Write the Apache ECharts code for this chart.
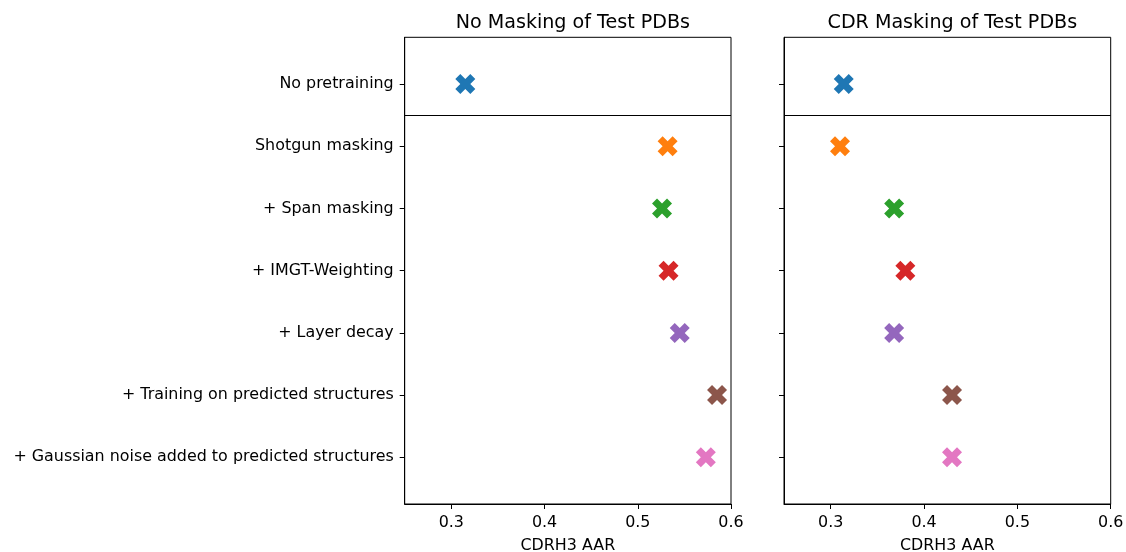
<!DOCTYPE html>
<html>
<head>
<meta charset="utf-8">
<script src="https://cdn.jsdelivr.net/npm/echarts@6/dist/echarts.min.js"></script>
<style>
  html, body { margin: 0; padding: 0; background: #fff; }
  #chart { width: 1126px; height: 552px; }
</style>
</head>
<body>
<div id="chart"></div>
<script>
// Pretraining configurations, top to bottom
const categories = [
  'No pretraining',
  'Shotgun masking',
  '+ Span masking',
  '+ IMGT-Weighting',
  '+ Layer decay',
  '+ Training on predicted structures',
  '+ Gaussian noise added to predicted structures'
];
// CDRH3 amino-acid recovery per configuration
const noMaskingAAR = [0.315, 0.532, 0.526, 0.533, 0.545, 0.585, 0.573];
const cdrMaskingAAR = [0.314, 0.310, 0.368, 0.380, 0.368, 0.430, 0.430];
const xTicks = [0.3, 0.4, 0.5, 0.6];
const panelTitles = ['No Masking of Test PDBs', 'CDR Masking of Test PDBs'];
const xAxisName = 'CDRH3 AAR';

const colors = ['#1f77b4', '#ff7f0e', '#2ca02c', '#d62728', '#9467bd', '#8c564b', '#e377c2'];
// filled "X" marker
const xMarker = 'path://M6 0L8 2L6 4L8 6L6 8L4 6L2 8L0 6L2 4L0 2L2 0L4 2Z';
const FONT = '"DejaVu Sans", sans-serif';
const TICK_FS = 15.9;
const TITLE_FS = 19.1;
const catIdx = categories.map((_, i) => i);

const chart = echarts.init(document.getElementById('chart'), null, { renderer: 'canvas' });

const grids = [
  { left: 404.7, width: 326.3, top: 37.3, height: 466.7 },
  { left: 784, width: 326.7, top: 37.3, height: 466.7 }
];

function xAxisFor(i) {
  return {
    type: 'value', gridIndex: i, min: 0.25, max: 0.6,
    name: xAxisName, nameLocation: 'middle', nameGap: 34,
    nameTextStyle: { fontFamily: FONT, fontSize: TICK_FS, color: '#000' },
    axisLine: { show: true, onZero: false, lineStyle: { color: '#000', width: 1 } },
    axisTick: { show: true, inside: false, length: 5, customValues: xTicks, lineStyle: { color: '#000' } },
    axisLabel: { show: true, margin: 11, customValues: xTicks, fontFamily: FONT, fontSize: TICK_FS, color: '#000',
      formatter: v => String(Math.round(v * 10) / 10) },
    splitLine: { show: false }
  };
}
function yAxisFor(i) {
  return {
    type: 'value', gridIndex: i, min: -0.75, max: 6.75, inverse: true,
    axisLine: { show: true, onZero: false, lineStyle: { color: '#000', width: 1 } },
    axisTick: { show: true, inside: false, length: 5, customValues: catIdx, lineStyle: { color: '#000' } },
    axisLabel: { show: i === 0, margin: 11, customValues: catIdx, fontFamily: FONT, fontSize: TICK_FS, color: '#000',
      formatter: v => categories[Math.round(v)] || '' },
    splitLine: { show: false }
  };
}

function seriesFor(i, values) {
  return {
    type: 'scatter', xAxisIndex: i, yAxisIndex: i,
    symbol: xMarker, symbolSize: 20,
    data: values.map((v, k) => ({ value: [v, k], itemStyle: { color: colors[k], opacity: 1 } })),
    markLine: {
      silent: true, symbol: 'none', label: { show: false },
      lineStyle: { color: '#000', width: 1, type: 'solid' },
      data: [{ yAxis: 0.5 }]
    },
    z: 3
  };
}

chart.setOption({
  animation: false,
  backgroundColor: '#fff',
  title: panelTitles.map((t, i) => ({
    text: t,
    left: grids[i].left + grids[i].width / 2,
    top: 9,
    textAlign: 'center',
    textStyle: { fontFamily: FONT, fontSize: TITLE_FS, fontWeight: 'normal', color: '#000' }
  })),
  grid: grids.map(g => Object.assign({
    show: true, borderColor: '#000', borderWidth: 1, backgroundColor: 'transparent',
    containLabel: false, outerBoundsMode: 'none'
  }, g)),
  xAxis: [xAxisFor(0), xAxisFor(1)],
  yAxis: [yAxisFor(0), yAxisFor(1)],
  series: [seriesFor(0, noMaskingAAR), seriesFor(1, cdrMaskingAAR)]
});
</script>
</body>
</html>
